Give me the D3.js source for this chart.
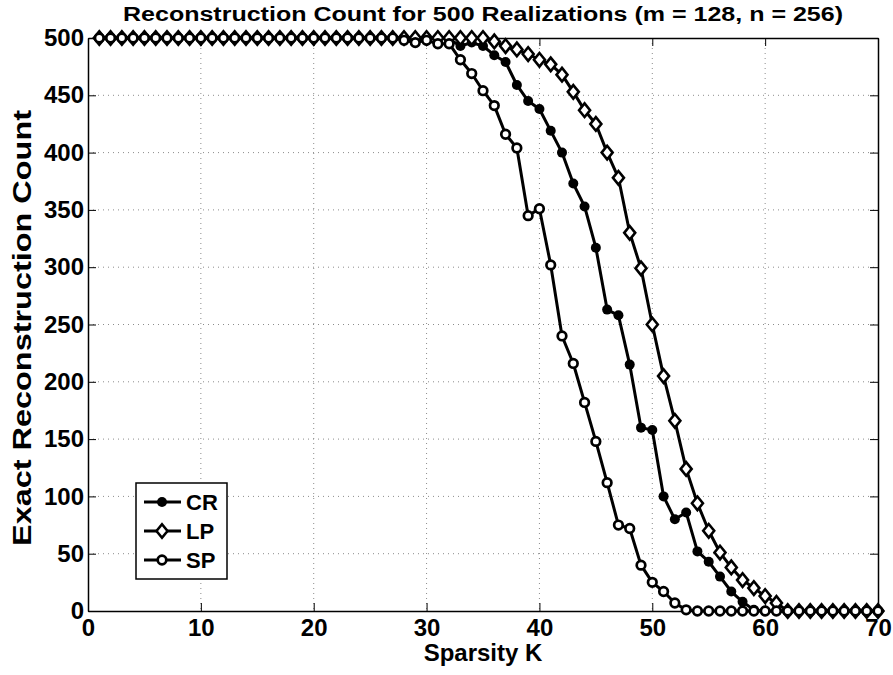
<!DOCTYPE html>
<html>
<head>
<meta charset="utf-8">
<script src="https://cdn.jsdelivr.net/npm/d3@7"></script>
<style>
  body { margin: 0; background: #fff; }
  svg text { font-family: "Liberation Sans", Arial, sans-serif; font-weight: bold; fill: #000; }
</style>
</head>
<body>
<div id="chart"></div>
<script>
const width = 893,
    height = 675;

// sparsity levels K = 1..70
const sparsity = d3.range(1, 71);

// exact reconstruction counts (out of 500)
const crCounts = [
    500,500,500,500,500,500,500,500,500,500,
    500,500,500,500,500,500,500,500,500,500,
    500,500,500,500,500,500,500,500,500,500,
    500,499,493,496,493,485,479,459,445,438,
    419,400,373,353,317,263,258,215,160,158,
    100,80,86,52,43,30,17,8,1,0,
    0,0,0,0,0,0,0,0,0,0
];
const lpCounts = [
    500,500,500,500,500,500,500,500,500,500,
    500,500,500,500,500,500,500,500,500,500,
    500,500,500,500,500,500,500,500,500,500,
    500,500,500,500,500,497,493,490,486,481,
    477,468,453,437,425,400,378,330,299,250,
    205,166,124,94,70,51,38,27,20,13,
    7,0,0,0,0,0,0,0,0,0
];
const spCounts = [
    500,500,500,500,500,500,500,500,500,500,
    500,500,500,500,500,500,500,500,500,500,
    500,500,500,500,500,500,500,498,496,498,
    495,495,481,469,454,441,416,404,345,351,
    302,240,216,182,148,112,75,72,40,25,
    17,7,1,0,0,0,0,0,0,0,
    0,0,0,0,0,0,0,0,0,0
];

const xTicks = [0, 10, 20, 30, 40, 50, 60, 70];
const yTicks = [0, 50, 100, 150, 200, 250, 300, 350, 400, 450, 500];

const seriesNames = ["CR", "LP", "SP"];

const plot = {left: 88, right: 878, top: 38, bottom: 611};

const x = d3.scaleLinear().domain([0, 70]).range([plot.left, plot.right]);
const y = d3.scaleLinear().domain([0, 500]).range([plot.bottom, plot.top]);

const svg = d3.select("#chart").append("svg")
    .attr("width", width)
    .attr("height", height);

svg.append("rect")
    .attr("width", width).attr("height", height).attr("fill", "#fff");

// dotted grid
const grid = svg.append("g").attr("stroke", "#8c8c8c").attr("stroke-width", 1)
    .attr("stroke-dasharray", "1,4");
grid.selectAll(".gx").data(xTicks.slice(1, -1)).join("line")
    .attr("x1", d => x(d)).attr("x2", d => x(d))
    .attr("y1", plot.top).attr("y2", plot.bottom);
grid.selectAll(".gy").data(yTicks.slice(1, -1)).join("line")
    .attr("y1", d => y(d)).attr("y2", d => y(d))
    .attr("x1", plot.left).attr("x2", plot.right);

// axes (ticks pointing inward, box on all sides)
const tickLen = 8;
const xAxis = svg.append("g")
    .attr("transform", `translate(0,${plot.bottom})`)
    .call(d3.axisBottom(x).tickValues(xTicks).tickSizeInner(-tickLen).tickSizeOuter(0).tickPadding(8));
const yAxis = svg.append("g")
    .attr("transform", `translate(${plot.left},0)`)
    .call(d3.axisLeft(y).tickValues(yTicks).tickSizeInner(-tickLen).tickSizeOuter(0).tickPadding(4));
const xTop = svg.append("g")
    .attr("transform", `translate(0,${plot.top})`)
    .call(d3.axisTop(x).tickValues(xTicks).tickSizeInner(-tickLen).tickSizeOuter(0).tickFormat(""));
const yRight = svg.append("g")
    .attr("transform", `translate(${plot.right},0)`)
    .call(d3.axisRight(y).tickValues(yTicks).tickSizeInner(-tickLen).tickSizeOuter(0).tickFormat(""));

[xAxis, yAxis, xTop, yRight].forEach(a => {
    a.select(".domain").attr("stroke", "#000").attr("stroke-width", 1.5);
    a.selectAll(".tick line").attr("stroke", "#000").attr("stroke-width", 1);
    a.selectAll("text").attr("font-size", 24).attr("font-family", "Liberation Sans, Arial, sans-serif")
        .attr("font-weight", "bold").attr("fill", "#000");
});

// labels
svg.append("text")
    .attr("x", 483).attr("y", 21)
    .attr("text-anchor", "middle").attr("font-size", 20)
    .attr("textLength", 720).attr("lengthAdjust", "spacingAndGlyphs")
    .text("Reconstruction Count for 500 Realizations (m = 128, n = 256)");
svg.append("text")
    .attr("x", 483).attr("y", 661)
    .attr("text-anchor", "middle").attr("font-size", 24)
    .text("Sparsity K");
svg.append("text")
    .attr("transform", `translate(31,328) rotate(-90)`)
    .attr("text-anchor", "middle").attr("font-size", 25)
    .attr("textLength", 436).attr("lengthAdjust", "spacingAndGlyphs")
    .text("Exact Reconstruction Count");

// series
const line = d3.line().x(d => x(d[0])).y(d => y(d[1]));
const diamond = (w, h) => `M0,${-h}L${w},0L0,${h}L${-w},0Z`;

const drawMarker = (g, name) => {
    if (name === "CR") {
        g.append("circle").attr("r", 5).attr("fill", "#000");
    } else if (name === "LP") {
        g.append("path").attr("d", diamond(5.5, 6.8)).attr("fill", "#fff")
            .attr("stroke", "#000").attr("stroke-width", 2.6);
    } else {
        g.append("circle").attr("r", 4.3).attr("fill", "#fff")
            .attr("stroke", "#000").attr("stroke-width", 2.7);
    }
};

const seriesData = [crCounts, lpCounts, spCounts];
seriesNames.forEach((name, i) => {
    const pts = sparsity.map((k, j) => [k, seriesData[i][j]]);
    const g = svg.append("g");
    g.append("path").datum(pts)
        .attr("fill", "none").attr("stroke", "#000").attr("stroke-width", 3)
        .attr("stroke-linejoin", "round")
        .attr("d", line);
    g.selectAll(".m").data(pts).join("g")
        .attr("transform", d => `translate(${x(d[0])},${y(d[1])})`)
        .each(function () { drawMarker(d3.select(this), name); });
});

// legend
const legend = svg.append("g").attr("transform", "translate(136,483)");
legend.append("rect")
    .attr("width", 91).attr("height", 96)
    .attr("fill", "#fff").attr("stroke", "#000").attr("stroke-width", 1.5);
seriesNames.forEach((name, i) => {
    const ly = 19 + i * 29;
    legend.append("line")
        .attr("x1", 8).attr("x2", 45).attr("y1", ly).attr("y2", ly)
        .attr("stroke", "#000").attr("stroke-width", 3);
    const m = legend.append("g").attr("transform", `translate(26,${ly})`);
    drawMarker(m, name);
    legend.append("text")
        .attr("x", 50).attr("y", ly + 8)
        .attr("font-size", 22)
        .text(name);
});
</script>
</body>
</html>
